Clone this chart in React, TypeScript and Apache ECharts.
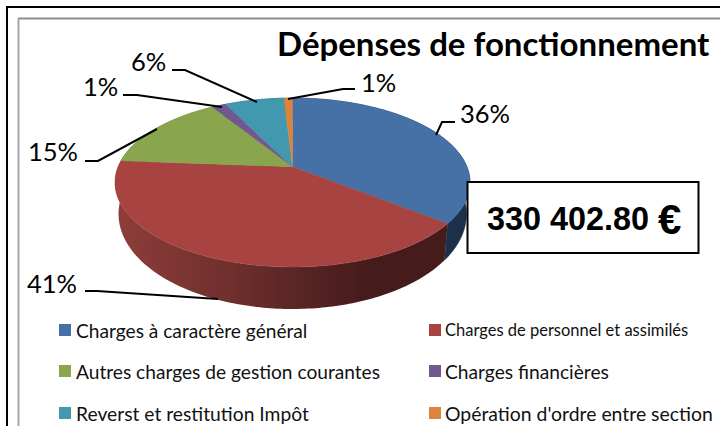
import React, { useEffect, useRef } from "react";
import * as echarts from "echarts";

const categories = [
  "Charges à caractère général",
  "Charges de personnel et assimilés",
  "Autres charges de gestion courantes",
  "Charges financières",
  "Reverst et restitution Impôt",
  "Opération d'ordre entre section",
];
const shares = [35.6, 40.6, 14.9, 1.49, 6.49, 0.92];
const colors = ["#4671A6", "#A74441", "#89A54E", "#71588F", "#4198AF", "#DB843D"];
const sideColors = ["#1B3149", "#8F3D3A", "#56682F", "#43345A", "#25616F", "#8A5224"];
const title = "Dépenses de fonctionnement";
const totalInt = "330 402.80 ";
const totalUnit = "€";

const leaders = [
  { text: [460, 113], pts: [[455, 122], [442, 122], [436, 135]] },
  { text: [361, 82], pts: [[355, 89], [343, 89], [288, 99]] },
  { text: [131, 61], pts: [[172, 70], [185, 70], [257, 102]] },
  { text: [83, 86], pts: [[123, 95], [137, 95], [222, 107]] },
  { text: [28, 151], pts: [[85, 161], [98, 161], [157, 129]] },
  { text: [27, 283], pts: [[85, 291], [97, 291], [218, 299]] },
];
// order of leaders matching data index
const leaderOf = [0, 5, 4, 3, 2, 1];
const legendPos = [
  { x: 59, y: 330, tx: 76, size: 19.15 },
  { x: 429, y: 330, tx: 445, size: 16.5 },
  { x: 59, y: 371, tx: 76, size: 19.15 },
  { x: 429, y: 371, tx: 445, size: 19.2 },
  { x: 59, y: 413, tx: 76, size: 19.25 },
  { x: 429, y: 413, tx: 445, size: 19.4 },
];

const W = 0.187;
const project = (t: number, cx: number, cy: number, A: number, B: number) => {
  const u = Math.sin(t);
  const v = Math.cos(t);
  const d = 1 + W * v;
  return [cx + (A * u) / d, cy - (B * v) / d];
};

const total = shares.reduce((a, b) => a + b, 0);

function renderItem(params: any) {
  const i = params.dataIndex;
  const start = (shares.slice(0, i).reduce((a, b) => a + b, 0) / total) * Math.PI * 2;
  const end = start + (shares[i] / total) * Math.PI * 2;
  const n = Math.max(4, Math.ceil((end - start) * 60));
  const topRim: number[][] = [];
  const botRim: number[][] = [];
  for (let k = 0; k <= n; k++) {
    const t = start + ((end - start) * k) / n;
    topRim.push(project(t, 292.5, 166.7, 174.4, 81.5));
    botRim.push(project(t, 292.5, 196.2, 170.9, 91.7));
  }
  const sideFill =
    i === 1
      ? new echarts.graphic.LinearGradient(0, 0, 1, 0, [
          { offset: 0, color: "#8F3D3A" },
          { offset: 0.35, color: "#6E2F2D" },
          { offset: 0.75, color: "#451C1B" },
          { offset: 1, color: "#451C1B" },
        ])
      : sideColors[i];
  return {
    type: "group",
    children: [
      {
        type: "polygon",
        z2: 1,
        shape: { points: [...topRim, ...botRim.slice().reverse()] },
        style: { fill: sideFill, stroke: i === 1 ? undefined : sideColors[i], lineWidth: 0.5 },
      },
      {
        type: "polygon",
        z2: 10,
        shape: { points: [[292.5, 166.7], ...topRim] },
        style: { fill: colors[i], stroke: colors[i], lineWidth: 0.5 },
      },
    ],
  };
}

export default function App() {
  const ref = useRef<HTMLDivElement>(null);
  useEffect(() => {
    const chart = echarts.init(ref.current!, undefined, { renderer: "svg" });
    const el: any[] = [
      { type: "line", z: 50, shape: { x1: 6, y1: 7, x2: 720, y2: 7 }, style: { stroke: "#000", lineWidth: 2 } },
      { type: "line", z: 50, shape: { x1: 7, y1: 6, x2: 7, y2: 426 }, style: { stroke: "#000", lineWidth: 2 } },
      { type: "line", z: 50, shape: { x1: 18, y1: 18.5, x2: 720, y2: 18.5 }, style: { stroke: "#8C8C8C", lineWidth: 2 } },
      { type: "line", z: 50, shape: { x1: 18.5, y1: 18, x2: 18.5, y2: 426 }, style: { stroke: "#A6A6A6", lineWidth: 2 } },
    ];
    shares.forEach((s, i) => {
      const l = leaders[leaderOf[i]];
      el.push({
        type: "polyline",
        z: 50,
        shape: { points: l.pts },
        style: { stroke: "#000", lineWidth: 2, fill: "none" },
      });
      el.push({
        type: "text",
        z: 50,
        x: l.text[0],
        y: l.text[1],
        style: {
          text: `${Math.round((s / total) * 100)}%`,
          fontFamily: "Lato",
          fontSize: 25.5,
          fill: "#000",
          verticalAlign: "middle",
          align: "left",
        },
      });
    });
    categories.forEach((c, i) => {
      const p = legendPos[i];
      el.push({
        type: "rect",
        z: 50,
        shape: { x: p.x, y: p.y - 6, width: 12, height: 12 },
        style: { fill: colors[i] },
      });
      el.push({
        type: "text",
        z: 50,
        x: p.tx,
        y: p.y,
        style: {
          text: c,
          fontFamily: "Lato",
          fontSize: p.size,
          fill: "#111",
          verticalAlign: "middle",
          align: "left",
        },
      });
    });
    el.push({
      type: "rect",
      z: 60,
      shape: { x: 467.5, y: 182, width: 231, height: 71 },
      style: { fill: "#fff", stroke: "#000", lineWidth: 2 },
    });
    el.push({
      type: "text",
      z: 61,
      x: 487,
      y: 219,
      style: {
        text: `{a|${totalInt}}{b|${totalUnit}}`,
        verticalAlign: "middle",
        align: "left",
        rich: {
          a: { fontFamily: "Liberation Sans", fontWeight: "bold", fontSize: 32.4, fill: "#000" },
          b: { fontFamily: "Liberation Sans", fontWeight: "bold", fontSize: 42, fill: "#000" },
        },
      },
    });
    chart.setOption({
      animation: false,
      backgroundColor: "#fff",
      title: {
        text: title,
        left: 277,
        top: 26,
        padding: 0,
        textStyle: { fontFamily: "Lato", fontWeight: "bold", fontSize: 33, color: "#000" },
      },
      series: [
        {
          type: "custom",
          coordinateSystem: "none",
          silent: true,
          clip: false,
          renderItem,
          data: categories.map((name, i) => ({ name, value: shares[i] })),
        },
      ],
      graphic: { elements: el },
    });
    return () => chart.dispose();
  }, []);
  return <div ref={ref} style={{ position: "absolute", left: 0, top: 0, width: 720, height: 426 }} />;
}
